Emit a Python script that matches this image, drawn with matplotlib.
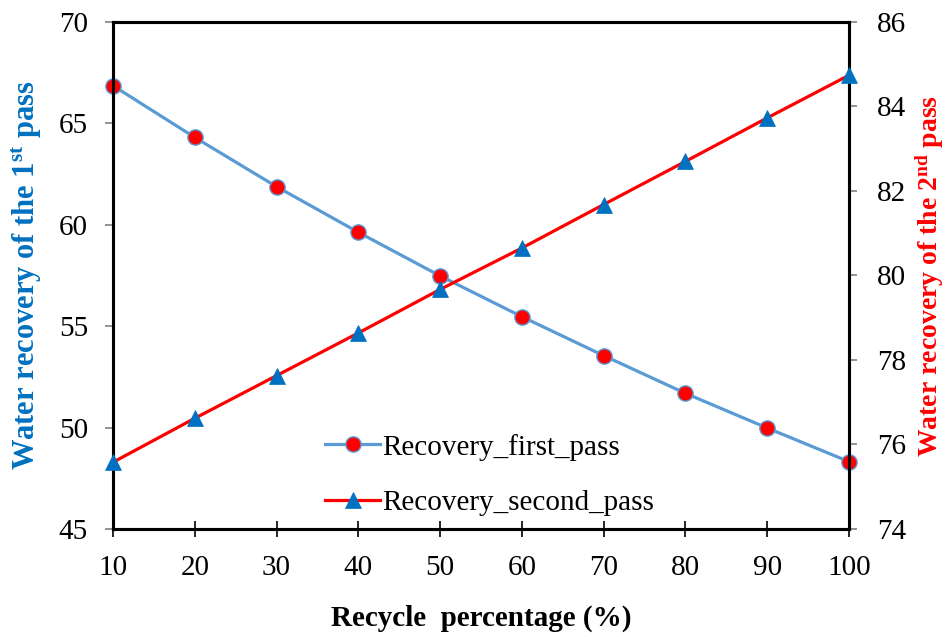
import matplotlib
matplotlib.use('Agg')
import matplotlib.pyplot as plt
import numpy as np

# recycle percentage vs. water recovery of each pass
recycle = [10, 20, 30, 40, 50, 60, 70, 80, 90, 100]
recovery_first = [66.86, 64.31, 61.88, 59.63, 57.48, 55.47, 53.55, 51.69, 49.98, 48.32]
recovery_second = [75.58, 76.62, 77.63, 78.64, 79.67, 80.65, 81.68, 82.70, 83.73, 84.74]

plt.rcParams['font.family'] = 'Liberation Serif'
plt.rcParams['mathtext.fontset'] = 'custom'
plt.rcParams['mathtext.rm'] = 'Liberation Serif:bold'
plt.rcParams['mathtext.it'] = 'Liberation Serif:bold'
plt.rcParams['mathtext.bf'] = 'Liberation Serif:bold'

FS = 21
blue_line = '#5B9BD5'
blue_mark = '#0070C0'
red = '#FF0000'

fig = plt.figure(figsize=(9.47, 6.37), dpi=100)
ax = fig.add_axes([113 / 947, 1 - 529 / 637, 736 / 947, 507 / 637])
ax2 = ax.twinx()

l1, = ax.plot(recycle, recovery_first, color=blue_line, linewidth=2.3,
              marker='o', markersize=11, markerfacecolor=red,
              markeredgecolor=blue_line, markeredgewidth=1.0,
              label='Recovery_first_pass', clip_on=False, zorder=3)
l2, = ax2.plot(recycle, recovery_second, color=red, linewidth=2.3,
               marker='^', markersize=11, markerfacecolor=blue_mark,
               markeredgecolor=blue_mark, markeredgewidth=0.5,
               label='Recovery_second_pass', clip_on=False, zorder=3)

ax.set_xlim(10, 100)
ax.set_ylim(45, 70)
ax2.set_ylim(74, 86)
ax.set_xticks(np.arange(10, 101, 10))
ax.set_yticks(np.arange(45, 71, 5))
ax2.set_yticks(np.arange(74, 87, 2))

for a in (ax, ax2):
    for s in a.spines.values():
        s.set_linewidth(2.2)
        s.set_color('black')

ax.tick_params(axis='x', direction='inout', length=12, width=1.2,
               color='black', labelsize=FS, pad=13)
ax.tick_params(axis='y', direction='out', length=6, width=1.2,
               color='#808080', labelsize=FS, pad=12)
ax2.tick_params(axis='y', direction='out', length=6, width=1.2,
                color='#808080', labelsize=FS, pad=14)

ax.set_xlabel('Recycle  percentage (%)', fontsize=FS, fontweight='bold')
ax.xaxis.set_label_coords(0.5, -0.150)
ax.set_ylabel('Water recovery of the 1$^{st}$ pass', fontsize=22,
              fontweight='bold', color=blue_mark)
ax.yaxis.set_label_coords(-0.094, 0.5)
ax2.set_ylabel('Water recovery of the 2$^{nd}$ pass', fontsize=20,
               fontweight='bold', color=red, rotation=90)
ax2.yaxis.set_label_coords(1.088, 0.5)

ax2.legend(handles=[l1, l2], loc='center left',
           bbox_to_anchor=(325 / 947, 1 - 475 / 637),
           bbox_transform=fig.transFigure, frameon=False, fontsize=FS,
           handlelength=1.9, handletextpad=0.05, labelspacing=1.0,
           borderpad=0, borderaxespad=0)

fig.savefig('out.png', dpi=100)
